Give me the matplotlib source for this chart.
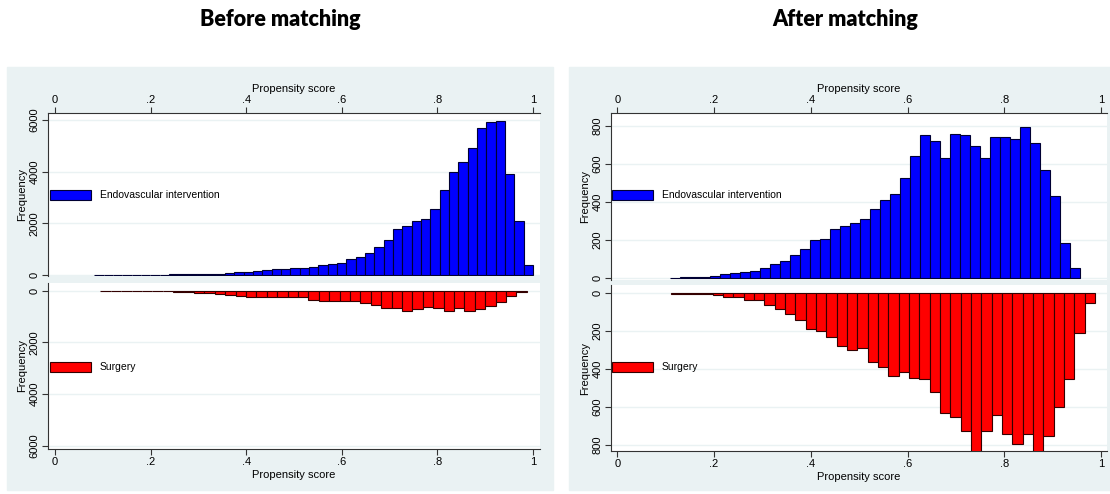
import numpy as np
import matplotlib
matplotlib.use("Agg")
import matplotlib.pyplot as plt
from matplotlib.patches import Rectangle

# ---- data ----
# before matching: endovascular (blue), 47 bins from 0.082 to 1.0
before_endo_range = (0.082, 1.0)
before_endo = [3, 4, 5, 7, 9, 11, 14, 18, 22, 26,
               30, 35, 42, 55, 70, 100, 130, 165, 190, 215,
               232, 258, 271, 323, 387, 413, 477, 605, 685, 840,
               1070, 1355, 1770, 1900, 2080, 2170, 2570, 3290, 3970, 4360,
               4930, 5680, 5920, 5960, 3910, 2090, 370]
# before matching: surgery (red), 41 bins from 0.095 to 0.987
before_surg_range = (0.095, 0.987)
before_surg = [5, 5, 8, 10, 15, 20, 30, 45, 55, 70,
               90, 115, 150, 190, 225, 232, 232, 232, 258, 258,
               360, 387, 387, 387, 387, 464, 553, 658, 658, 774,
               724, 619, 685, 774, 685, 774, 724, 580, 450, 200,
               50]
# after matching: endovascular (blue), 41 bins from 0.109 to 0.957
after_endo_range = (0.109, 0.957)
after_endo = [3, 5, 7, 9, 10, 23, 26, 35, 40, 52,
              75, 91, 124, 156, 200, 208, 259, 275, 290, 310,
              362, 410, 443, 528, 642, 751, 719, 633, 760, 754,
              693, 633, 742, 740, 731, 796, 709, 567, 434, 184,
              52]
# after matching: surgery (red), 41 bins from 0.112 to 0.987
after_surg_range = (0.112, 0.987)
after_surg = [3, 5, 4, 6, 10, 21, 21, 35, 35, 63,
              84, 107, 142, 188, 199, 230, 278, 299, 290, 364,
              390, 436, 413, 445, 450, 519, 633, 650, 724, 840,
              724, 642, 742, 793, 742, 840, 752, 601, 450, 208,
              52]

x_ticks = [0, 0.2, 0.4, 0.6, 0.8, 1]
x_ticklabels = ["0", ".2", ".4", ".6", ".8", "1"]
titles = ["Before matching", "After matching"]
labels = ["Endovascular intervention", "Surgery"]

W, H = 1110, 494
BG = "#eaf2f3"
plt.rcParams["font.family"] = ["Liberation Sans", "DejaVu Sans"]

fig = plt.figure(figsize=(W / 100, H / 100), dpi=100)


def box(l, t, r, b):
    # pixel box -> figure fractions
    return [l / W, 1 - b / H, (r - l) / W, (b - t) / H]


def hist(ax, rng, vals, color, edge):
    n = len(vals)
    edges = np.linspace(rng[0], rng[1], n + 1)
    return ax.bar(edges[:-1], vals, width=np.diff(edges), align="edge",
                  color=color, edgecolor=edge, linewidth=0.8, zorder=3)


def style(ax, yticks, top):
    ax.set_facecolor("white")
    ax.spines["right"].set_visible(False)
    if top:
        ax.spines["bottom"].set_visible(False)
        ax.xaxis.tick_top()
        ax.xaxis.set_label_position("top")
    else:
        ax.spines["top"].set_visible(False)
    for s in ["left", "top", "bottom"]:
        ax.spines[s].set_color("#333333")
        ax.spines[s].set_linewidth(0.8)
    ax.set_xticks(x_ticks)
    ax.set_xticklabels(x_ticklabels)
    ax.set_yticks(yticks)
    ax.set_yticklabels([str(v) for v in yticks], rotation=90, va="center")
    ax.tick_params(labelsize=8, length=4, width=0.8, color="#333333", pad=2)
    ax.grid(axis="y", color=BG, linewidth=1.0, zorder=0)
    ax.set_axisbelow(True)
    ax.set_xlabel("Propensity score", fontsize=8, labelpad=2)
    ax.set_ylabel("Frequency", fontsize=8, labelpad=2)


# panel backgrounds
fig.patches.append(Rectangle((7 / W, 1 - 490 / H), 546 / W, 423 / H,
                             transform=fig.transFigure, color=BG, zorder=-5))
fig.patches.append(Rectangle((569 / W, 1 - 490 / H), 541 / W, 423 / H,
                             transform=fig.transFigure, color=BG, zorder=-5))

fig.text(280 / W, 1 - 20 / H, titles[0], fontsize=15.5, fontweight="heavy",
         family=["Lato", "DejaVu Sans"], ha="center", va="center")
fig.text(845 / W, 1 - 20 / H, titles[1], fontsize=15.5, fontweight="heavy",
         family=["Lato", "DejaVu Sans"], ha="center", va="center")

panels = [
    dict(top=box(48, 113, 540, 276), bot=box(48, 283, 540, 449),
         xlim=(-0.0146, 1.0146), ytop=(-39, 6271), ybot=(6128, -298),
         yt=[0, 2000, 4000, 6000], endo=(before_endo_range, before_endo),
         surg=(before_surg_range, before_surg), legx=50),
    dict(top=box(611, 113, 1107, 280), bot=box(611, 285, 1107, 451),
         xlim=(-0.013, 1.0118), ytop=(-9, 868), ybot=(832, -44),
         yt=[0, 200, 400, 600, 800], endo=(after_endo_range, after_endo),
         surg=(after_surg_range, after_surg), legx=612),
]

for p in panels:
    ax1 = fig.add_axes(p["top"])
    b1 = hist(ax1, p["endo"][0], p["endo"][1], "#0000ff", "#000033")
    style(ax1, p["yt"], True)
    ax1.set_xlim(p["xlim"])
    ax1.set_ylim(p["ytop"])

    ax2 = fig.add_axes(p["bot"])
    b2 = hist(ax2, p["surg"][0], p["surg"][1], "#ff0000", "#330000")
    style(ax2, p["yt"], False)
    ax2.set_xlim(p["xlim"])
    ax2.set_ylim(p["ybot"])

    ax1.legend([b1], [labels[0]], loc="center left", frameon=False,
               bbox_to_anchor=(p["legx"] / W, 1 - 195 / H),
               bbox_transform=fig.transFigure, fontsize=7.5, borderpad=0,
               borderaxespad=0, handlelength=3.9, handleheight=1.2,
               handletextpad=0.9)
    ax2.legend([b2], [labels[1]], loc="center left", frameon=False,
               bbox_to_anchor=(p["legx"] / W, 1 - 367 / H),
               bbox_transform=fig.transFigure, fontsize=7.5, borderpad=0,
               borderaxespad=0, handlelength=3.9, handleheight=1.2,
               handletextpad=0.9)

fig.savefig("out.png", dpi=100, facecolor="white")
